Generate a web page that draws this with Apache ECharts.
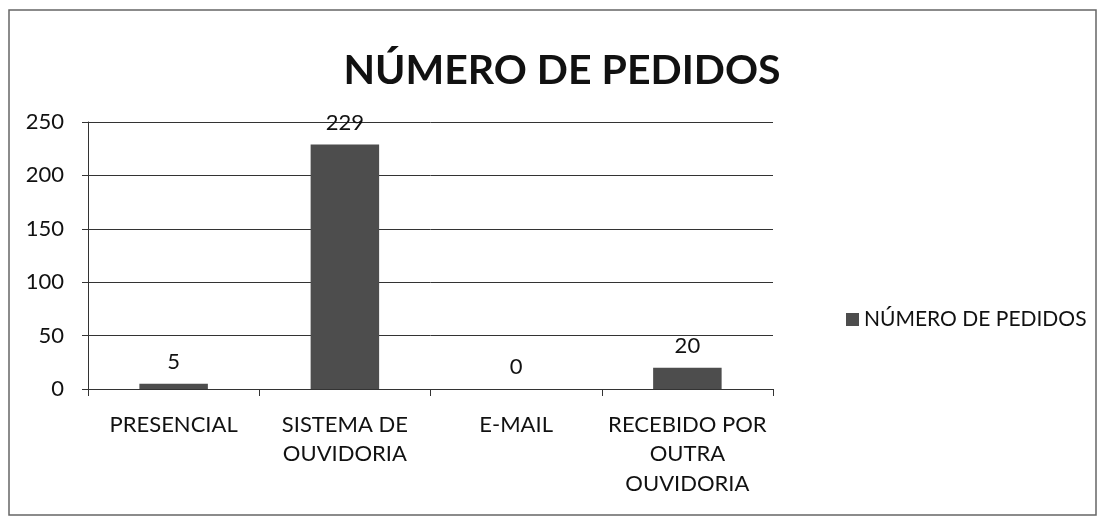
<!DOCTYPE html>
<html>
<head>
<meta charset="utf-8">
<script src="https://cdn.jsdelivr.net/npm/echarts@6/dist/echarts.min.js"></script>
<style>
html,body{margin:0;padding:0;background:#fff;}
#chart{width:1097px;height:525px;}
</style>
</head>
<body>
<div id="chart"></div>
<script>
const categories = ['PRESENCIAL', 'SISTEMA DE\nOUVIDORIA', 'E-MAIL', 'RECEBIDO POR\nOUTRA\nOUVIDORIA'];
const values = [5, 229, 0, 20];
const seriesName = 'NÚMERO DE PEDIDOS';
const titleText = 'NÚMERO DE PEDIDOS';

const font = 'Lato, "Open Sans", sans-serif';
const chart = echarts.init(document.getElementById('chart'));
chart.setOption({
  backgroundColor: '#fff',
  animation: false,
  textStyle: { fontFamily: font },
  graphic: [{
    type: 'rect',
    shape: { x: 9, y: 10, width: 1087, height: 505 },
    style: { fill: 'none', stroke: '#666', lineWidth: 1.5 },
    silent: true, z: -1
  }],
  title: {
    text: titleText,
    left: 557, top: 45, textAlign: 'center',
    textStyle: { fontFamily: font, fontSize: 41, fontWeight: 'bold', color: '#111' }
  },
  legend: {
    data: [seriesName],
    left: 841, top: 304,
    itemWidth: 13, itemHeight: 13, itemGap: 6,
    icon: 'rect',
    textStyle: { fontFamily: font, fontSize: 21, color: '#111' }
  },
  grid: { left: 88, right: 1097 - 773, top: 122, bottom: 525 - 389, containLabel: false },
  xAxis: {
    type: 'category',
    data: categories,
    axisLine: { lineStyle: { color: '#333', width: 1 } },
    axisTick: { show: true, alignWithLabel: false, length: 7, lineStyle: { color: '#333' } },
    axisLabel: { fontFamily: font, fontSize: 22, color: '#111', lineHeight: 29.5, margin: 21, interval: 0 }
  },
  yAxis: {
    type: 'value',
    min: 0, max: 250, interval: 50,
    axisLine: { show: true, lineStyle: { color: '#333', width: 1 } },
    axisTick: { show: true, length: 6, lineStyle: { color: '#333' } },
    axisLabel: { fontFamily: font, fontSize: 22, color: '#111', margin: 24 },
    splitLine: { lineStyle: { color: '#333', width: 1 } }
  },
  series: [{
    name: seriesName,
    type: 'bar',
    data: values,
    barWidth: '40%',
    itemStyle: { color: '#4d4d4d' },
    label: { show: true, position: 'top', distance: 11, fontFamily: font, fontSize: 22, color: '#111' }
  }]
});
</script>
</body>
</html>
